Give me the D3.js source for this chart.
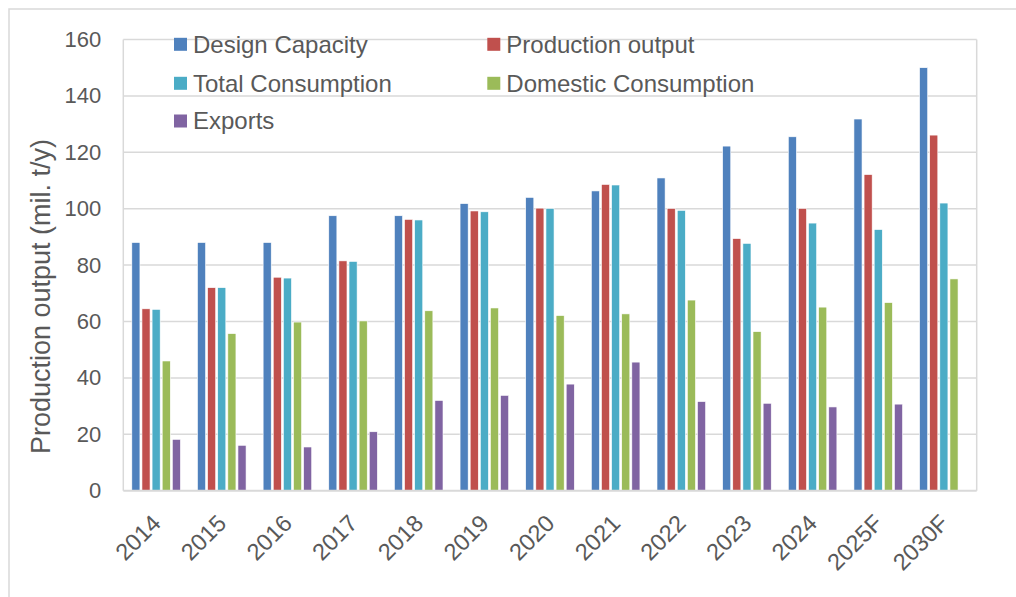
<!DOCTYPE html>
<html>
<head>
<meta charset="utf-8">
<script src="https://cdn.jsdelivr.net/npm/d3@7"></script>
<style>
  html, body { margin: 0; padding: 0; background: #fff; }
  svg { display: block; font-family: "Liberation Sans", Arial, sans-serif; }
</style>
</head>
<body>
<div id="chart"></div>
<script>
// Data
const categories = ['2014', '2015', '2016', '2017', '2018', '2019', '2020', '2021', '2022', '2023', '2024', '2025F', '2030F'];
const seriesNames = ['Design Capacity', 'Production output', 'Total Consumption', 'Domestic Consumption', 'Exports'];
const designCapacity = [88, 88, 88, 97.5, 97.5, 101.8, 104, 106.3, 110.9, 122.2, 125.5, 131.8, 150];
const productionOutput = [64.5, 72, 75.7, 81.5, 96.2, 99.2, 100.2, 108.6, 100.1, 89.4, 100.1, 112.1, 126.1];
const totalConsumption = [64.3, 72, 75.4, 81.3, 96, 98.9, 100.1, 108.4, 99.4, 87.7, 94.9, 92.6, 102];
const domesticConsumption = [46, 55.7, 59.8, 60.2, 63.8, 64.8, 62.1, 62.7, 67.6, 56.4, 65.1, 66.7, 75.1];
const exports = [18.2, 16.1, 15.5, 20.9, 32, 33.8, 37.8, 45.6, 31.6, 31, 29.7, 30.7, null];
const yTicks = [0, 20, 40, 60, 80, 100, 120, 140, 160];

const colors = ['#4F81BD', '#C0504D', '#4BACC6', '#9BBB59', '#8064A2'];
const seriesValues = [designCapacity, productionOutput, totalConsumption, domesticConsumption, exports];

const W = 1016, H = 597;
const plot = { left: 123.3, right: 976.7, top: 39.5, bottom: 490.7 };
const textColor = '#595959';
const gridColor = '#D9D9D9';

const svg = d3.select('#chart').append('svg')
  .attr('width', W)
  .attr('height', H);

// Outer chart border (runs past the picture's right and bottom edges)
svg.append('rect')
  .attr('x', 9).attr('y', 9)
  .attr('width', 1030).attr('height', 620)
  .attr('fill', 'none')
  .attr('stroke', gridColor)
  .attr('stroke-width', 1.5);

const x0 = d3.scaleBand().domain(categories).range([plot.left, plot.right]).padding(0);
const step = x0.step();
const x1 = d3.scaleBand().domain(seriesNames)
  .range([step * 0.13, step * 0.87])
  .paddingInner(0.2).paddingOuter(0);
const y = d3.scaleLinear().domain([0, 160]).range([plot.bottom, plot.top]);

// Gridlines
svg.append('g')
  .selectAll('line')
  .data(yTicks.filter(t => t > 0)).enter().append('line')
  .attr('x1', plot.left).attr('x2', plot.right)
  .attr('y1', d => y(d)).attr('y2', d => y(d))
  .attr('stroke', gridColor)
  .attr('stroke-width', 1.5);

// Plot area sides
svg.append('line')
  .attr('x1', plot.left).attr('x2', plot.left)
  .attr('y1', plot.top).attr('y2', plot.bottom)
  .attr('stroke', gridColor).attr('stroke-width', 1.5);
svg.append('line')
  .attr('x1', plot.right).attr('x2', plot.right)
  .attr('y1', plot.top).attr('y2', plot.bottom)
  .attr('stroke', gridColor).attr('stroke-width', 1.5);

// Y axis labels
const yAxis = svg.append('g')
  .attr('transform', `translate(${plot.left},0)`)
  .call(d3.axisLeft(y).tickValues(yTicks).tickSize(0).tickPadding(22));
yAxis.select('.domain').remove();
yAxis.selectAll('text')
  .attr('fill', textColor)
  .style('font-size', '22px')
  .style('font-family', '"Liberation Sans", Arial, sans-serif');

// Bars
const groups = svg.append('g')
  .selectAll('g')
  .data(categories).enter().append('g')
  .attr('transform', d => `translate(${x0(d)},0)`);

groups.selectAll('rect')
  .data((d, i) => seriesNames.map((s, k) => ({ s, k, v: seriesValues[k][i] })).filter(e => e.v != null))
  .enter().append('rect')
  .attr('x', d => x1(d.s))
  .attr('width', x1.bandwidth())
  .attr('y', d => y(d.v))
  .attr('height', d => y(0) - y(d.v))
  .attr('fill', d => colors[d.k])
  .attr('stroke', '#ffffff')
  .attr('stroke-width', 0.6);

// X axis line
svg.append('line')
  .attr('x1', plot.left).attr('x2', plot.right)
  .attr('y1', plot.bottom).attr('y2', plot.bottom)
  .attr('stroke', gridColor).attr('stroke-width', 2);

// X axis labels (rotated)
const xAxis = svg.append('g')
  .attr('transform', `translate(0,${plot.bottom})`)
  .call(d3.axisBottom(x0).tickSize(0).tickPadding(0));
xAxis.select('.domain').remove();
xAxis.selectAll('text')
  .attr('fill', textColor)
  .attr('y', 0).attr('dy', 0)
  .attr('text-anchor', 'end')
  .attr('transform', 'translate(6,34) rotate(-45)')
  .style('font-size', '23.5px')
  .style('font-family', '"Liberation Sans", Arial, sans-serif');

// Y axis title
svg.append('text')
  .attr('transform', 'translate(49.5,296.5) rotate(-90)')
  .attr('text-anchor', 'middle')
  .attr('fill', textColor)
  .style('font-size', '27px')
  .text('Production output (mil. t/y)');

// Legend (two columns)
const legendPos = [
  { x: 174, y: 44.3 }, { x: 487.3, y: 44.3 },
  { x: 174, y: 83.3 }, { x: 487.3, y: 83.3 },
  { x: 174, y: 121 }
];
const legend = svg.append('g')
  .selectAll('g')
  .data(seriesNames).enter().append('g')
  .attr('transform', (d, i) => `translate(${legendPos[i].x},${legendPos[i].y})`);
legend.append('rect')
  .attr('x', 0).attr('y', -6.5)
  .attr('width', 13).attr('height', 13)
  .attr('fill', (d, i) => colors[i]);
legend.append('text')
  .attr('x', 19).attr('y', 8.3)
  .attr('fill', textColor)
  .style('font-size', '24px')
  .text(d => d);
</script>
</body>
</html>
